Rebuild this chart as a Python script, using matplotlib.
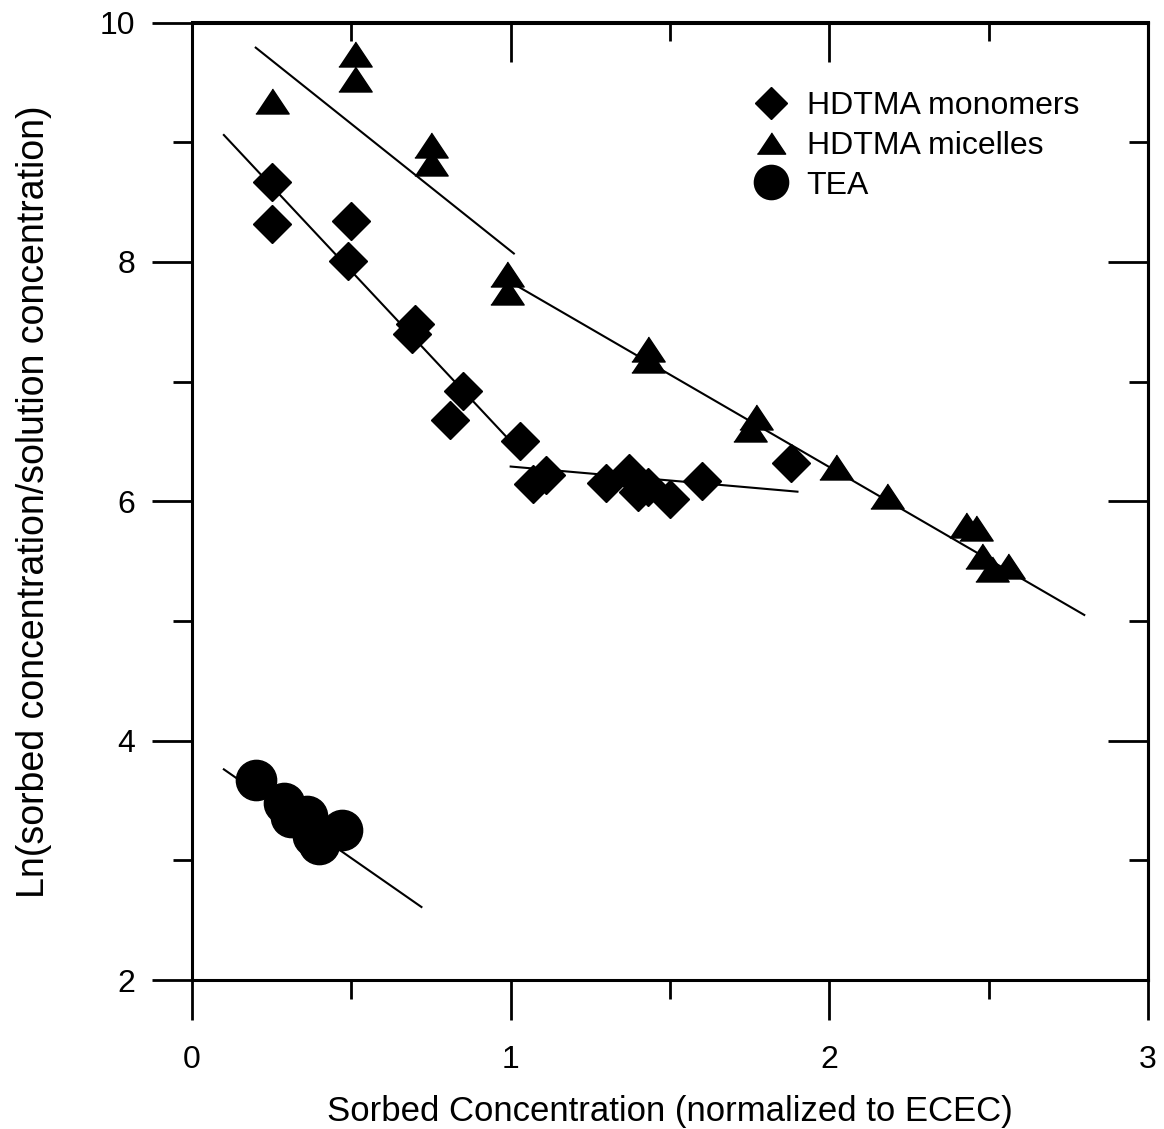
import matplotlib
matplotlib.use('Agg')
import matplotlib.pyplot as plt
import numpy as np

plt.rcParams['font.family'] = ['Liberation Sans', 'DejaVu Sans']

# HDTMA monomers (diamonds)
mono_x = [0.25, 0.25, 0.50, 0.49, 0.70, 0.69, 0.85, 0.81, 1.03, 1.07, 1.11,
          1.30, 1.37, 1.40, 1.43, 1.50, 1.60, 1.88]
mono_y = [8.67, 8.32, 8.34, 8.01, 7.48, 7.40, 6.92, 6.68, 6.50, 6.14, 6.22,
          6.15, 6.24, 6.08, 6.12, 6.02, 6.17, 6.32]

# HDTMA micelles (triangles)
mic_x = [0.25, 0.51, 0.51, 0.75, 0.75, 0.99, 0.99, 1.43, 1.43, 1.77, 1.75,
         2.02, 2.18, 2.43, 2.46, 2.48, 2.51, 2.56]
mic_y = [9.34, 9.74, 9.53, 8.98, 8.83, 7.90, 7.75, 7.27, 7.18, 6.70, 6.60,
         6.29, 6.04, 5.80, 5.78, 5.54, 5.43, 5.46]

# TEA (circles)
tea_x = [0.20, 0.29, 0.31, 0.36, 0.38, 0.40, 0.47]
tea_y = [3.67, 3.48, 3.36, 3.37, 3.20, 3.14, 3.25]

# fitted line segments (end points)
mono_fit1_x, mono_fit1_y = [0.10, 1.00], [9.06, 6.50]
mono_fit2_x, mono_fit2_y = [1.00, 1.90], [6.29, 6.08]
mic_fit1_x, mic_fit1_y = [0.20, 1.01], [9.79, 8.07]
mic_fit2_x, mic_fit2_y = [1.00, 2.80], [7.83, 5.05]
tea_fit_x, tea_fit_y = [0.10, 0.72], [3.76, 2.61]

fig = plt.figure(figsize=(11.64, 11.29), dpi=100)
ax = fig.add_axes([192 / 1164, 1 - 980 / 1129, (1148 - 192) / 1164, (980 - 22.5) / 1129])

for fx, fy in [(mono_fit1_x, mono_fit1_y), (mono_fit2_x, mono_fit2_y),
               (mic_fit1_x, mic_fit1_y), (mic_fit2_x, mic_fit2_y),
               (tea_fit_x, tea_fit_y)]:
    ax.plot(fx, fy, color='black', lw=1.5)

tri = [(-1, -0.75), (1, -0.75), (0, 0.75)]
ax.plot(mono_x, mono_y, 'D', color='black', ms=19, label='HDTMA monomers')
ax.plot(mic_x, mic_y, linestyle='none', marker=tri, color='black', ms=24,
        label='HDTMA micelles')
ax.plot(tea_x, tea_y, 'o', color='black', ms=29, label='TEA')

ax.set_xlim(0, 3)
ax.set_ylim(2, 10)
ax.set_xticks([0, 1, 2, 3])
ax.set_xticks([0.5, 1.5, 2.5], minor=True)
ax.set_yticks([2, 4, 6, 8, 10])
ax.set_yticks([3, 5, 7, 9], minor=True)
ax.tick_params(which='major', direction='out', length=29, width=2,
               labelsize=23, pad=12)
ax.tick_params(axis='x', which='major', pad=18)
ax.tick_params(which='minor', direction='out', length=14, width=2)
for s in ax.spines.values():
    s.set_linewidth(2.2)

# inward ticks on top and right
top = ax.secondary_xaxis('top')
top.set_xticks([0, 1, 2, 3])
top.set_xticks([0.5, 1.5, 2.5], minor=True)
top.tick_params(which='major', direction='in', length=29, width=2, labeltop=False)
top.tick_params(which='minor', direction='in', length=14, width=2)
top.spines['top'].set_linewidth(2.2)
right = ax.secondary_yaxis('right')
right.set_yticks([2, 4, 6, 8, 10])
right.set_yticks([3, 5, 7, 9], minor=True)
right.tick_params(which='major', direction='in', length=29, width=2, labelright=False)
right.tick_params(which='minor', direction='in', length=14, width=2)
right.spines['right'].set_linewidth(2.2)

ax.set_xlabel('Sorbed Concentration (normalized to ECEC)', fontsize=25, labelpad=14)
ax.set_ylabel('Ln(sorbed concentration/solution concentration)', fontsize=27,
              labelpad=34)

ax.legend(loc='upper left', bbox_to_anchor=(0.586, 0.928), frameon=False,
          fontsize=23, handlelength=1.2, handletextpad=0.5, labelspacing=0.3,
          borderpad=0, borderaxespad=0, markerscale=0.85)

fig.savefig('out.png', dpi=100)
